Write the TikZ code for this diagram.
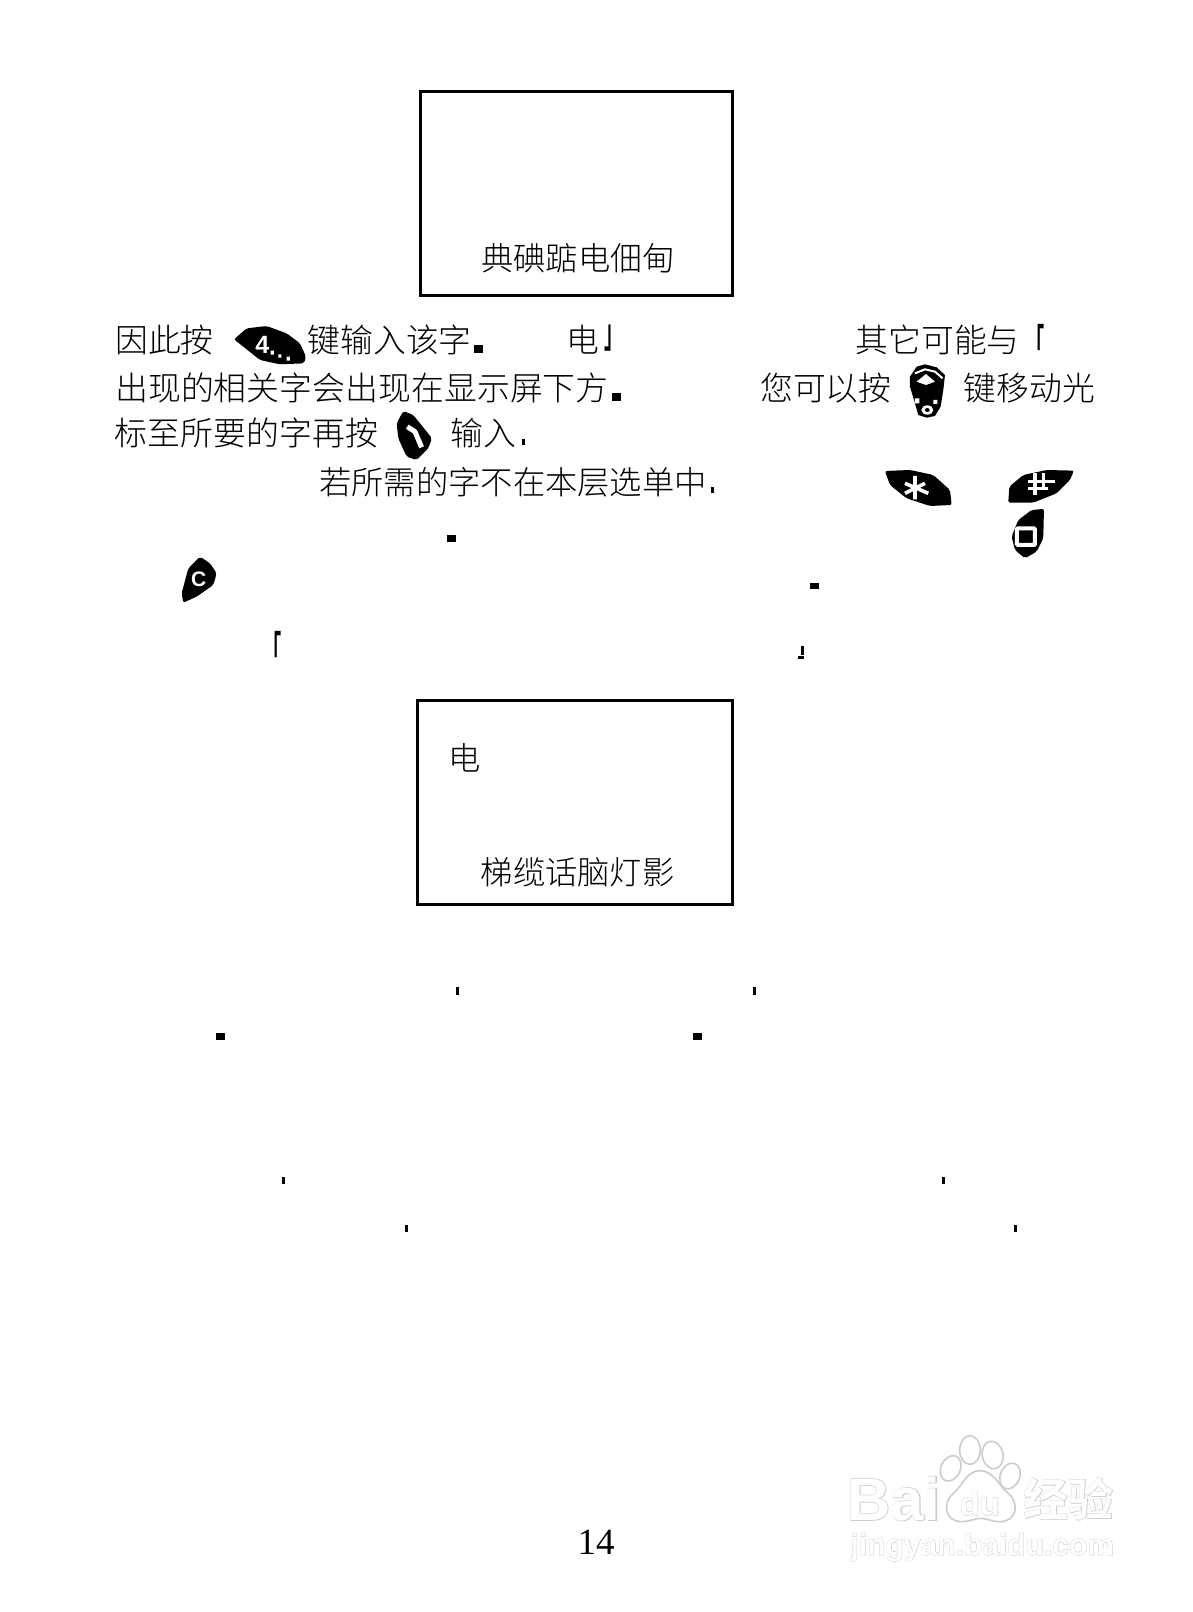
\documentclass[tikz,border=0pt]{standalone}
\usepackage{fontspec}
\setmainfont{Liberation Serif}
\newfontfamily\cjk[UprightFont=* Light]{Noto Sans CJK SC}
\newfontfamily\wmlat[BoldFont=*]{Liberation Sans Bold}
\newfontfamily\wmlatf[FakeBold=2.2]{Liberation Sans Bold}
\newfontfamily\wmcjk[UprightFont=* Bold]{Noto Sans CJK SC}
\newfontfamily\wmcjkf[UprightFont=* Bold,FakeBold=2.2]{Noto Sans CJK SC}
\colorlet{wmgray}{black!20}
\tikzset{
  txt/.style={anchor=west,inner sep=0pt,text height=28pt,text depth=4pt,font=\cjk\fontsize{32.8}{33}\selectfont},
  txts/.style={txt,font=\cjk\fontsize{32.3}{33}\selectfont},
  txtw/.style={txt,font=\cjk\fontsize{32.9}{33}\selectfont},
  brk/.style={anchor=center,inner sep=0pt,xscale=0.55,yscale=1.25,transform shape,font=\wmcjk\fontsize{33}{33}\selectfont},
  screenbox/.style={draw=black,line width=3pt,line join=miter,outer sep=0pt,inner sep=0pt},
  keyface/.style={fill=black,draw=none,rounded corners=2pt},
  keylab/.style={text=white,inner sep=0pt,font=\fontspec{Liberation Sans Bold}\fontsize{25}{25}\selectfont},
  keylabc/.style={keylab,font=\fontspec{Liberation Sans Bold}\fontsize{21}{21}\selectfont},
  wmo/.style={inner sep=0pt,text=wmgray},
  wmi/.style={inner sep=0pt,text=white},
  paw/.style={draw=wmgray,fill=white,line width=1.6pt},
  zoomA/.style={shift={(100,310)},x=0.3333pt,y=-0.3333pt},
  zoomB/.style={shift={(600,310)},x=0.3333pt,y=-0.3333pt},
  zoomW/.style={shift={(820,1400)},x=0.3333pt,y=-0.3333pt}
}
\begin{document}
\begin{tikzpicture}[x=1pt,y=-1pt]
\useasboundingbox (0,0) rectangle (1192,1612);
\fill[white] (0,0) rectangle (1192,1612);

% screens
\node[screenbox,anchor=north west,minimum width=312pt,minimum height=204pt] (screenA) at (420.5,91.5) {};
\node[screenbox,anchor=north west,minimum width=315pt,minimum height=204pt] (screenB) at (417.5,700.5) {};
\node[txts] (tA) at (481,258) {典碘踮电佃甸};
\node[txts] (tB) at (480.5,872) {梯缆话脑灯影};
\node[txts] (tC) at (448.5,758) {电};

% body text
\node[txt] (l1a) at (115,340) {因此按};
\node[txt] (l1b) at (307.5,340) {键输入该字};
\node[txt] (l1c) at (566,340) {电};
\node[brk] (l1d) at (614,338.5) {」};
\node[txt] (l1e) at (855.5,340) {其它可能与};
\node[brk] (l1f) at (1036,342) {「};
\node[txtw] (l2a) at (115,388) {出现的相关字会出现在显示屏下方};
\node[txt] (l2b) at (760,388) {您可以按};
\node[txt] (l2c) at (963.5,388) {键移动光};
\node[txtw] (l3a) at (114.5,433) {标至所要的字再按};
\node[txt] (l3b) at (450.5,433) {输入};
\node[txts] (l4a) at (319,482) {若所需的字不在本层选单中};
\node[brk] (l6a) at (272.5,648.5) {「};

% stray marks
\fill (474,345) rectangle (483,353);
\fill (612,393) rectangle (621,401);
\fill (522,439) rectangle (525,445);
\fill (711,487) rectangle (714,493);
\fill (447,535) rectangle (456,542);
\fill (810,583) rectangle (819,589);
\fill (800.5,646) rectangle (803.5,655);
\fill (798,655.5) rectangle (804,659);
\fill (456,987) rectangle (459,995);
\fill (752.5,987) rectangle (755.5,995);
\fill (216,1033) rectangle (225,1040);
\fill (692.5,1033) rectangle (701.5,1040);
\fill (281.5,1177) rectangle (284.5,1184);
\fill (941.5,1177) rectangle (944.5,1184);
\fill (405,1225) rectangle (408,1232);
\fill (1013.5,1225) rectangle (1016.5,1232);

% keys, left crop
\begin{scope}[zoomA]
  \fill[keyface] (402,88) -- (440,55) -- (500,48) -- (560,70) -- (600,100) -- (618,140) -- (612,160) -- (540,163) -- (480,150) -- (440,118) -- cycle;
  \node[keylab] (k4) at (487,104) {4};
  \fill[white] (512,122) rectangle (522,134) (535,133) rectangle (544,143) (560,140) rectangle (570,152);
  \fill[keyface] (910,303) -- (940,315) -- (996,385) -- (985,415) -- (950,450) -- (920,440) -- (895,385) -- (890,340) -- cycle;
  \draw[white,line width=5pt] (922,350) -- (945,365) -- (965,412);
  \fill[keyface] (300,740) -- (330,760) -- (350,790) -- (340,825) -- (290,860) -- (250,878) -- (245,850) -- (265,775) -- cycle;
  \node[keylabc] (kc) at (296,808) {C};
\end{scope}

% keys, right crop
\begin{scope}[zoomB]
  \fill[black] (930,200) -- (950,170) -- (975,163) -- (1010,172) -- (1035,195) -- (1030,240) -- (1022,290) -- (1005,318) -- (980,323) -- (955,315) -- (945,280) -- (930,230) -- cycle;
  \draw[white,line width=2pt] (945,190) -- (975,178) -- (1005,185) -- (1028,205);
  \fill[white] (978,192) -- (1005,215) -- (978,225) -- (950,215) -- cycle;
  \fill[white] (982,300) ellipse [x radius=18, y radius=14];
  \fill[black] (982,300) ellipse [x radius=7, y radius=6];
  \fill[white] (945,265) rectangle (958,280) (1000,270) rectangle (1012,282);
  \fill[keyface] (855,483) -- (930,480) -- (1000,495) -- (1050,540) -- (1055,585) -- (990,588) -- (920,565) -- (870,525) -- cycle;
  \draw[white,line width=3.6pt] (945,498) -- (945,568) (915,520) -- (985,550) (915,550) -- (975,520);
  \fill[keyface] (1422,482) -- (1340,480) -- (1270,495) -- (1228,530) -- (1225,578) -- (1300,578) -- (1370,550) -- (1410,510) -- cycle;
  \draw[white,line width=3.4pt] (1305,490) -- (1305,555) (1330,490) -- (1330,540) (1285,515) -- (1365,515) (1285,535) -- (1345,535);
  \fill[keyface] (1332,597) -- (1295,600) -- (1255,630) -- (1235,680) -- (1245,720) -- (1275,745) -- (1310,725) -- (1330,685) -- cycle;
  \draw[white,line width=4pt,rounded corners=1pt] (1251,655) rectangle (1305,705);
\end{scope}

% page number
\node[inner sep=0pt,font=\fontsize{37}{37}\selectfont] (page) at (596,1542) {14};

% watermark
\begin{scope}[zoomW]
  \draw[paw] (450,150) ellipse [x radius=31, y radius=43];
  \draw[paw,rotate around={12:(518,165)}] (518,165) ellipse [x radius=31, y radius=42];
  \draw[paw,rotate around={-25:(392,205)}] (392,205) ellipse [x radius=29, y radius=40];
  \draw[paw,rotate around={-22:(570,228)}] (570,228) ellipse [x radius=29, y radius=40];
  \draw[paw] (480,212) .. controls (440,212) and (430,255) .. (400,280) .. controls (365,310) and (375,365) .. (425,365) .. controls (450,365) and (465,355) .. (482,355) .. controls (500,355) and (515,365) .. (540,365) .. controls (590,365) and (600,310) .. (565,280) .. controls (535,255) and (520,212) .. (480,212) -- cycle;
  \node[wmo,font=\wmlatf\fontsize{60}{60}\selectfont] (wb1) at (222,296) {Bai};
  \node[wmi,font=\wmlat\fontsize{60}{60}\selectfont] (wb2) at (222,296) {Bai};
  \node[wmo,font=\wmlatf\fontsize{33}{33}\selectfont] (wd1) at (480,310) {du};
  \node[wmi,font=\wmlat\fontsize{33}{33}\selectfont] (wd2) at (480,310) {du};
  \node[wmo,font=\wmcjkf\fontsize{45}{45}\selectfont] (wj1) at (745,296) {经验};
  \node[wmi,font=\wmcjk\fontsize{45}{45}\selectfont] (wj2) at (745,296) {经验};
  \node[wmo,font=\wmlatf\fontsize{30}{30}\selectfont] (wu1) at (487,442) {jingyan.baidu.com};
  \node[wmi,font=\wmlat\fontsize{30}{30}\selectfont] (wu2) at (487,442) {jingyan.baidu.com};
\end{scope}
\end{tikzpicture}
\end{document}
